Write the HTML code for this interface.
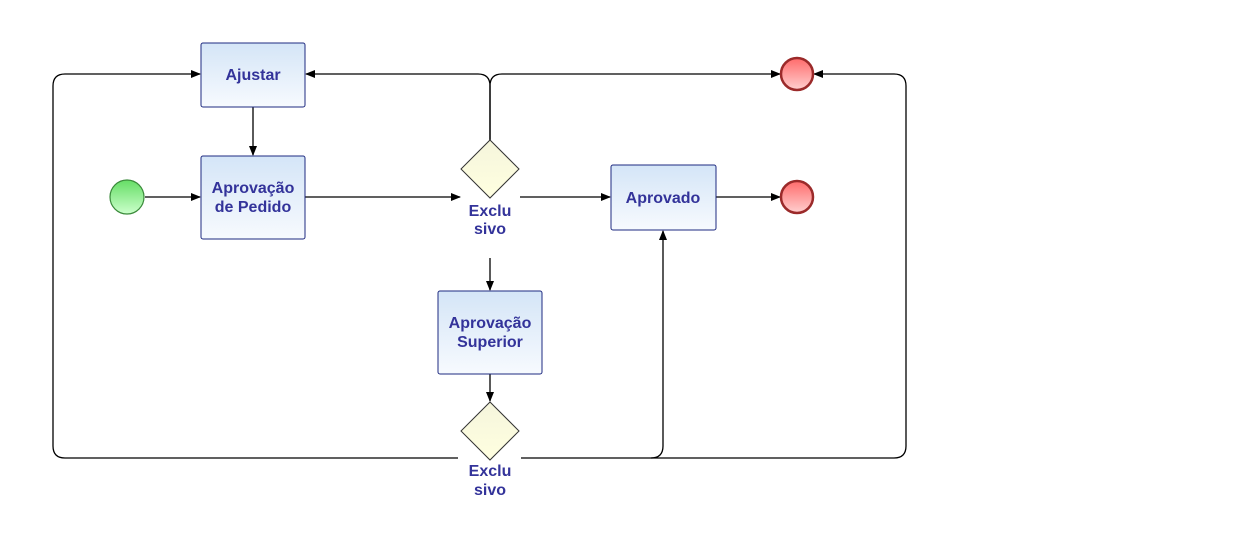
<!DOCTYPE html>
<html><head><meta charset="utf-8"><style>
html,body{margin:0;padding:0;background:#fff;}
svg{display:block;}
text{font-family:"Liberation Sans",sans-serif;font-weight:bold;font-size:16px;fill:#33339a;text-anchor:middle;}
</style></head><body>
<svg width="1250" height="550" viewBox="0 0 1250 550">
<defs>
<linearGradient id="box" x1="0" y1="0" x2="0" y2="1"><stop offset="0" stop-color="#d4e5f7"/><stop offset="1" stop-color="#f7fafe"/></linearGradient>
<linearGradient id="dia" x1="0" y1="0" x2="0" y2="1"><stop offset="0" stop-color="#f5f5dc"/><stop offset="1" stop-color="#ffffe0"/></linearGradient>
<linearGradient id="red" x1="0" y1="0" x2="0" y2="1"><stop offset="0" stop-color="#ff6b6b"/><stop offset="1" stop-color="#ffd0d0"/></linearGradient>
<linearGradient id="grn" x1="0" y1="0" x2="0" y2="1"><stop offset="0" stop-color="#66dd66"/><stop offset="1" stop-color="#ccffcc"/></linearGradient>
<marker id="a" markerWidth="10" markerHeight="8" refX="9" refY="4" orient="auto" markerUnits="userSpaceOnUse"><path d="M0,0 L10,4 L0,8 z" fill="#000"/></marker>
</defs>
<g fill="none" stroke="#000" stroke-width="1.3">
<path d="M253,107 V155" marker-end="url(#a)"/>
<path d="M145,197 H200" marker-end="url(#a)"/>
<path d="M305,197 H460" marker-end="url(#a)"/>
<path d="M520,197 H610" marker-end="url(#a)"/>
<path d="M716,197 H780" marker-end="url(#a)"/>
<path d="M490,140 V86 Q490,74 478,74 H306" marker-end="url(#a)"/>
<path d="M490,140 V86 Q490,74 502,74 H780" marker-end="url(#a)"/>
<path d="M490,258 V290" marker-end="url(#a)"/>
<path d="M490,374 V401" marker-end="url(#a)"/>
<path d="M458,458 H65 Q53,458 53,446 V86 Q53,74 65,74 H200" marker-end="url(#a)"/>
<path d="M521,458 H651 Q663,458 663,446 V231" marker-end="url(#a)"/>
<path d="M651,458 H894 Q906,458 906,446 V86 Q906,74 894,74 H814" marker-end="url(#a)"/>
</g>
<rect x="201" y="43" width="104" height="64" rx="2" fill="url(#box)" stroke="#1e2a80"/>
<text x="253" y="80">Ajustar</text>
<rect x="201" y="156" width="104" height="83" rx="2" fill="url(#box)" stroke="#1e2a80"/>
<text x="253" y="193">Aprovação</text><text x="253" y="212">de Pedido</text>
<rect x="611" y="165" width="105" height="65" rx="2" fill="url(#box)" stroke="#1e2a80"/>
<text x="663" y="203">Aprovado</text>
<rect x="438" y="291" width="104" height="83" rx="2" fill="url(#box)" stroke="#1e2a80"/>
<text x="490" y="328">Aprovação</text><text x="490" y="347">Superior</text>
<circle cx="127" cy="197" r="17" fill="url(#grn)" stroke="#3a8a3a" stroke-width="1.2"/>
<circle cx="797" cy="74" r="16" fill="url(#red)" stroke="#9b2a2a" stroke-width="2.5"/>
<circle cx="797" cy="197" r="16" fill="url(#red)" stroke="#9b2a2a" stroke-width="2.5"/>
<path d="M490,140 L519,169 L490,198 L461,169 z" fill="url(#dia)" stroke="#333"/>
<text x="490" y="216">Exclu</text><text x="490" y="234">sivo</text>
<path d="M490,402 L519,431 L490,460 L461,431 z" fill="url(#dia)" stroke="#333"/>
<text x="490" y="476">Exclu</text><text x="490" y="495">sivo</text>
</svg>
</body></html>
